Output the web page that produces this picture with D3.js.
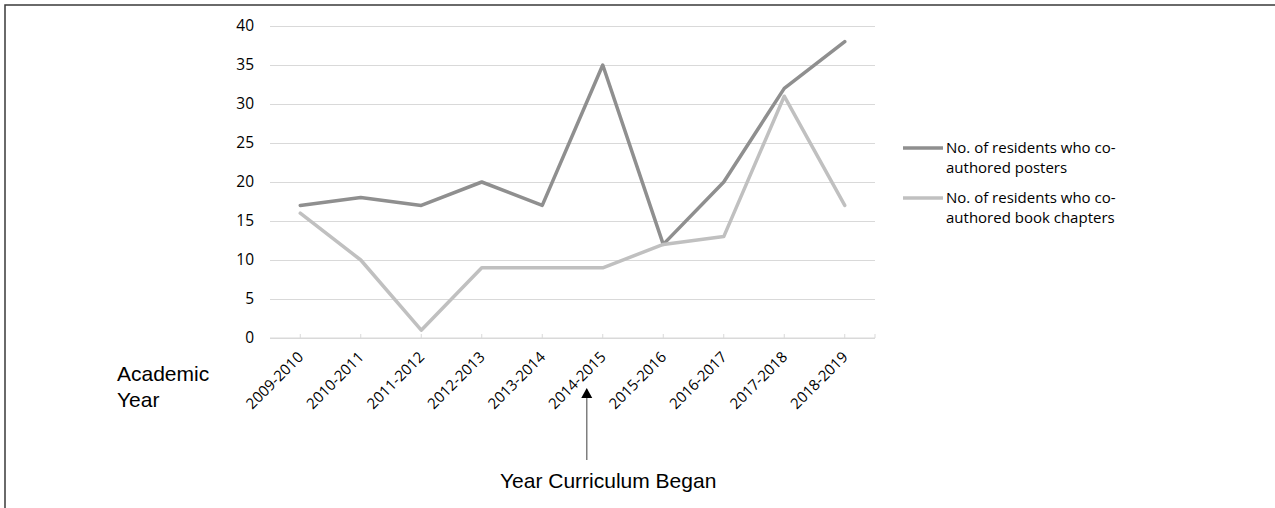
<!DOCTYPE html>
<html><head>
<meta charset="utf-8">
<script src="https://d3js.org/d3.v7.min.js"></script>
<style>
  body { margin: 0; background: #fff; }
  svg { display: block; }
</style>
</head>
<body>
<svg width="1275" height="508"></svg>
<script>
// academic years on the x axis
let years = ["2009-2010", "2010-2011", "2011-2012", "2012-2013", "2013-2014",
             "2014-2015", "2015-2016", "2016-2017", "2017-2018", "2018-2019"];
let posters = [17, 18, 17, 20, 17, 35, 12, 20, 32, 38];
let chapters = [16, 10, 1, 9, 9, 9, 12, 13, 31, 17];
let yTicks = [0, 5, 10, 15, 20, 25, 30, 35, 40];
let seriesNames = ["No. of residents who co-|authored posters",
                   "No. of residents who co-|authored book chapters"];
let seriesColors = ["#8f8f8f", "#c0c0c0"];

let svg = d3.select("svg");

// frame (only top and left edges show in the picture)
svg.append("rect")
    .attr("x", 5).attr("y", 5)
    .attr("width", 1400).attr("height", 700)
    .attr("fill", "none").attr("stroke", "#3a3a3a").attr("stroke-width", 1.5);

let x = d3.scaleBand().domain(years).range([270, 875]);
let y = d3.scaleLinear().domain([0, 40]).range([338, 26]);
let cx = d => x(d) + x.bandwidth() / 2;

// gridlines + y labels
let yAxis = d3.axisLeft(y).tickValues(yTicks).tickSize(-605).tickPadding(16);
let gy = svg.append("g").attr("transform", "translate(270,0)").call(yAxis);
gy.select(".domain").remove();
gy.selectAll(".tick line").attr("stroke", "#d9d9d9").attr("stroke-width", 1);
gy.selectAll(".tick text")
    .attr("font-family", "'Open Sans', sans-serif")
    .attr("font-size", 15.5).attr("fill", "#000");

// x axis line, small ticks at category centres
svg.append("line")
    .attr("x1", 270).attr("x2", 875).attr("y1", y(0)).attr("y2", y(0))
    .attr("stroke", "#d9d9d9").attr("stroke-width", 1);
svg.selectAll(".xtick").data(years).enter().append("line")
    .attr("x1", cx).attr("x2", cx)
    .attr("y1", y(0) - 4).attr("y2", y(0))
    .attr("stroke", "#d9d9d9");
svg.append("line")
    .attr("x1", 875).attr("x2", 875).attr("y1", y(0) - 4).attr("y2", y(0))
    .attr("stroke", "#d9d9d9");

svg.selectAll(".xlab").data(years).enter().append("text")
    .attr("transform", d => "translate(" + (cx(d) + 4) + ",358) rotate(-45)")
    .attr("text-anchor", "end")
    .attr("font-family", "'Open Sans', sans-serif")
    .attr("font-size", 15)
    .text(d => d);

// lines
let line = d3.line().x((d, i) => cx(years[i])).y(d => y(d));
[posters, chapters].forEach(function(vals, k) {
  svg.append("path")
      .attr("d", line(vals))
      .attr("fill", "none")
      .attr("stroke", seriesColors[k])
      .attr("stroke-width", 3.5)
      .attr("stroke-linecap", "round")
      .attr("stroke-linejoin", "round");
});

// legend
seriesNames.forEach(function(name, k) {
  let ly = 148 + k * 50;
  svg.append("line")
      .attr("x1", 903).attr("x2", 943).attr("y1", ly).attr("y2", ly)
      .attr("stroke", seriesColors[k]).attr("stroke-width", 3.5);
  let t = svg.append("text")
      .attr("font-family", "'Open Sans', sans-serif")
      .attr("font-size", 15);
  name.split("|").forEach(function(part, j) {
    t.append("tspan").attr("x", 946).attr("y", ly + 5 + j * 20).text(part);
  });
});

// annotations
let label = svg.append("text")
    .attr("font-family", "'Liberation Sans', Arial, sans-serif")
    .attr("font-size", 21);
label.append("tspan").attr("x", 117).attr("y", 381).text("Academic");
label.append("tspan").attr("x", 117).attr("y", 407).text("Year");

let ax = cx("2014-2015") - 16;
svg.append("line")
    .attr("x1", ax).attr("x2", ax).attr("y1", 460).attr("y2", 396)
    .attr("stroke", "#7f7f7f").attr("stroke-width", 1.5);
svg.append("path")
    .attr("d", d3.line()([[ax, 388], [ax - 5.5, 398], [ax + 5.5, 398]]) + "Z")
    .attr("fill", "#000");

svg.append("text")
    .attr("x", 500).attr("y", 488)
    .attr("font-family", "'Liberation Sans', Arial, sans-serif")
    .attr("font-size", 21)
    .text("Year Curriculum Began");
</script>
</body>
</html>
